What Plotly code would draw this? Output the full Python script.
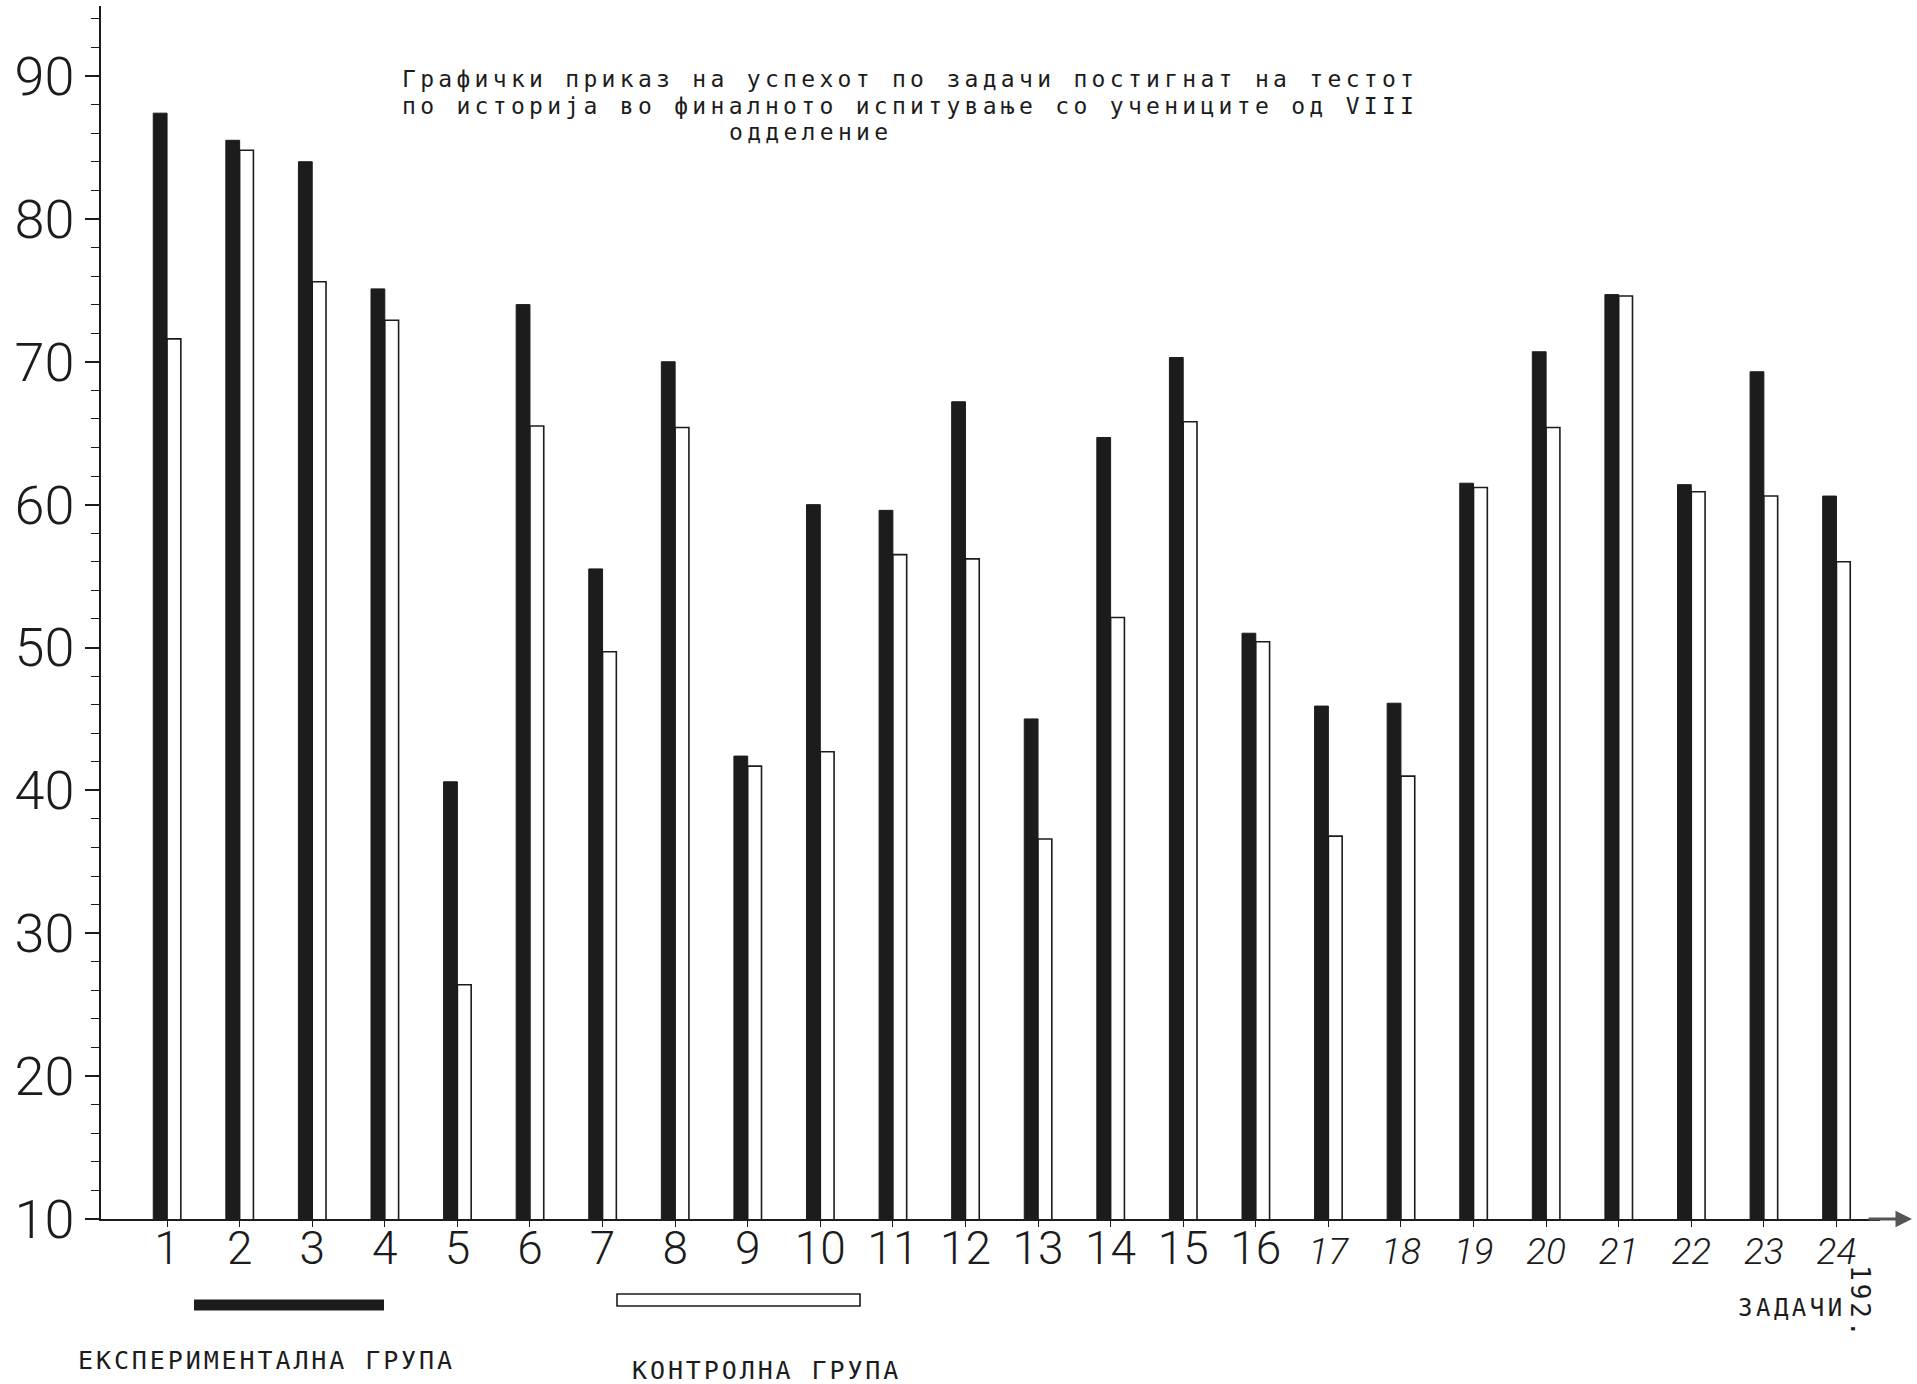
import plotly.graph_objects as go

# ---- data ----
tasks = [str(i) for i in range(1, 25)]
experimental = [87.4, 85.5, 84.0, 75.1, 40.6, 74.0, 55.5, 70.0, 42.4, 60.0, 59.6, 67.2,
                45.0, 64.7, 70.3, 51.0, 45.9, 46.1, 61.5, 70.7, 74.7, 61.4, 69.3, 60.6]
control = [71.6, 84.8, 75.6, 72.9, 26.4, 65.5, 49.7, 65.4, 41.7, 42.7, 56.5, 56.2,
           36.6, 52.1, 65.8, 50.4, 36.8, 41.0, 61.2, 65.4, 74.6, 60.9, 60.6, 56.0]
y_ticks = [10, 20, 30, 40, 50, 60, 70, 80, 90]
title_lines = ["Графички приказ на успехот по задачи постигнат на тестот",
               "по историја во финалното испитување со учениците од VIII",
               "одделение"]
legend_exp = "ЕКСПЕРИМЕНТАЛНА ГРУПА"
legend_ctl = "КОНТРОЛНА ГРУПА"
x_title = "ЗАДАЧИ"
page_no = "192."

W, H = 1917, 1384
L, R, T, B = 101, 37, 6, 165
PW, PH = W - L - R, H - T - B


def px(x):
    return (x - L) / PW


def py(y):
    return (H - B - y) / PH


DIGITS = "Roboto"
TYPE = "DejaVu Sans Mono"
INK = "#1c1c1c"

ticktext = []
for t in tasks:
    if int(t) >= 17:
        ticktext.append('<span style="font-size:37px"><i>%s</i></span>' % t)
    else:
        ticktext.append(t)

fig = go.Figure()
fig.add_trace(go.Bar(x=tasks, y=experimental, name=legend_exp,
                     marker=dict(color=INK, line=dict(color=INK, width=1))))
fig.add_trace(go.Bar(x=tasks, y=control, name=legend_ctl,
                     marker=dict(color="white", line=dict(color=INK, width=1.6))))

fig.update_layout(
    width=W, height=H,
    margin=dict(l=L, r=R, t=T, b=B, autoexpand=False),
    paper_bgcolor="white", plot_bgcolor="white",
    barmode="group", bargap=0.62, bargroupgap=0.0,
    showlegend=False,
    xaxis=dict(type="category", range=[-0.91, 23.6], showgrid=False, zeroline=False,
               showline=True, linecolor=INK, linewidth=1.5,
               ticks="outside", ticklen=6, tickcolor=INK, tickwidth=1.2,
               tickvals=tasks, ticktext=ticktext, ticklabelstandoff=-18,
               tickfont=dict(family=DIGITS, size=46, color=INK, weight=300)),
    yaxis=dict(range=[10, 94.9], showgrid=False, zeroline=False,
               showline=True, linecolor=INK, linewidth=1.5,
               tickvals=y_ticks, ticks="outside", ticklen=14, tickcolor=INK, tickwidth=1.5,
               minor=dict(dtick=2, ticks="outside", ticklen=8, tickcolor=INK, tickwidth=1.2),
               tickfont=dict(family=DIGITS, size=54, color=INK, weight=300)),
)

span = '<span style="letter-spacing:4.3px">%s</span>'
title_pos = [(400, 79), (400, 106), (727, 132)]
for line, (x0, y0) in zip(title_lines, title_pos):
    fig.add_annotation(xref="paper", yref="paper", x=px(x0), y=py(y0),
                       xanchor="left", yanchor="middle", showarrow=False,
                       text=span % line,
                       font=dict(family=TYPE, size=23, color=INK))

# legend marks
fig.add_shape(type="line", xref="paper", yref="paper",
              x0=px(194), x1=px(384), y0=py(1305), y1=py(1305),
              line=dict(color=INK, width=11))
fig.add_shape(type="rect", xref="paper", yref="paper",
              x0=px(617), x1=px(860), y0=py(1306), y1=py(1294),
              fillcolor="white", line=dict(color=INK, width=1.6))

lab = '<span style="letter-spacing:2.9px">%s</span>'
fig.add_annotation(xref="paper", yref="paper", x=px(76), y=py(1360),
                   xanchor="left", yanchor="middle", showarrow=False,
                   text=lab % legend_exp, font=dict(family=TYPE, size=25, color=INK))
fig.add_annotation(xref="paper", yref="paper", x=px(630), y=py(1370),
                   xanchor="left", yanchor="middle", showarrow=False,
                   text=lab % legend_ctl, font=dict(family=TYPE, size=25, color=INK))
fig.add_annotation(xref="paper", yref="paper", x=px(1736), y=py(1308),
                   xanchor="left", yanchor="middle", showarrow=False,
                   text='<span style="letter-spacing:3.5px">%s</span>' % x_title,
                   font=dict(family=TYPE, size=24, color=INK))
fig.add_annotation(xref="paper", yref="paper", x=px(1860), y=py(1302),
                   xanchor="center", yanchor="middle", showarrow=False, textangle=90,
                   text='<span style="letter-spacing:3px">%s</span>' % page_no,
                   font=dict(family=TYPE, size=26, color=INK))

# x-axis arrow tip
fig.add_annotation(xref="paper", yref="paper", x=px(1912), y=0, ax=-45, ay=0,
                   text="", showarrow=True, arrowhead=2, arrowsize=1.1,
                   arrowwidth=3, arrowcolor="#555")

fig.write_html("out.html", config={"displayModeBar": False},
               post_script="document.body.style.margin='0px';")
